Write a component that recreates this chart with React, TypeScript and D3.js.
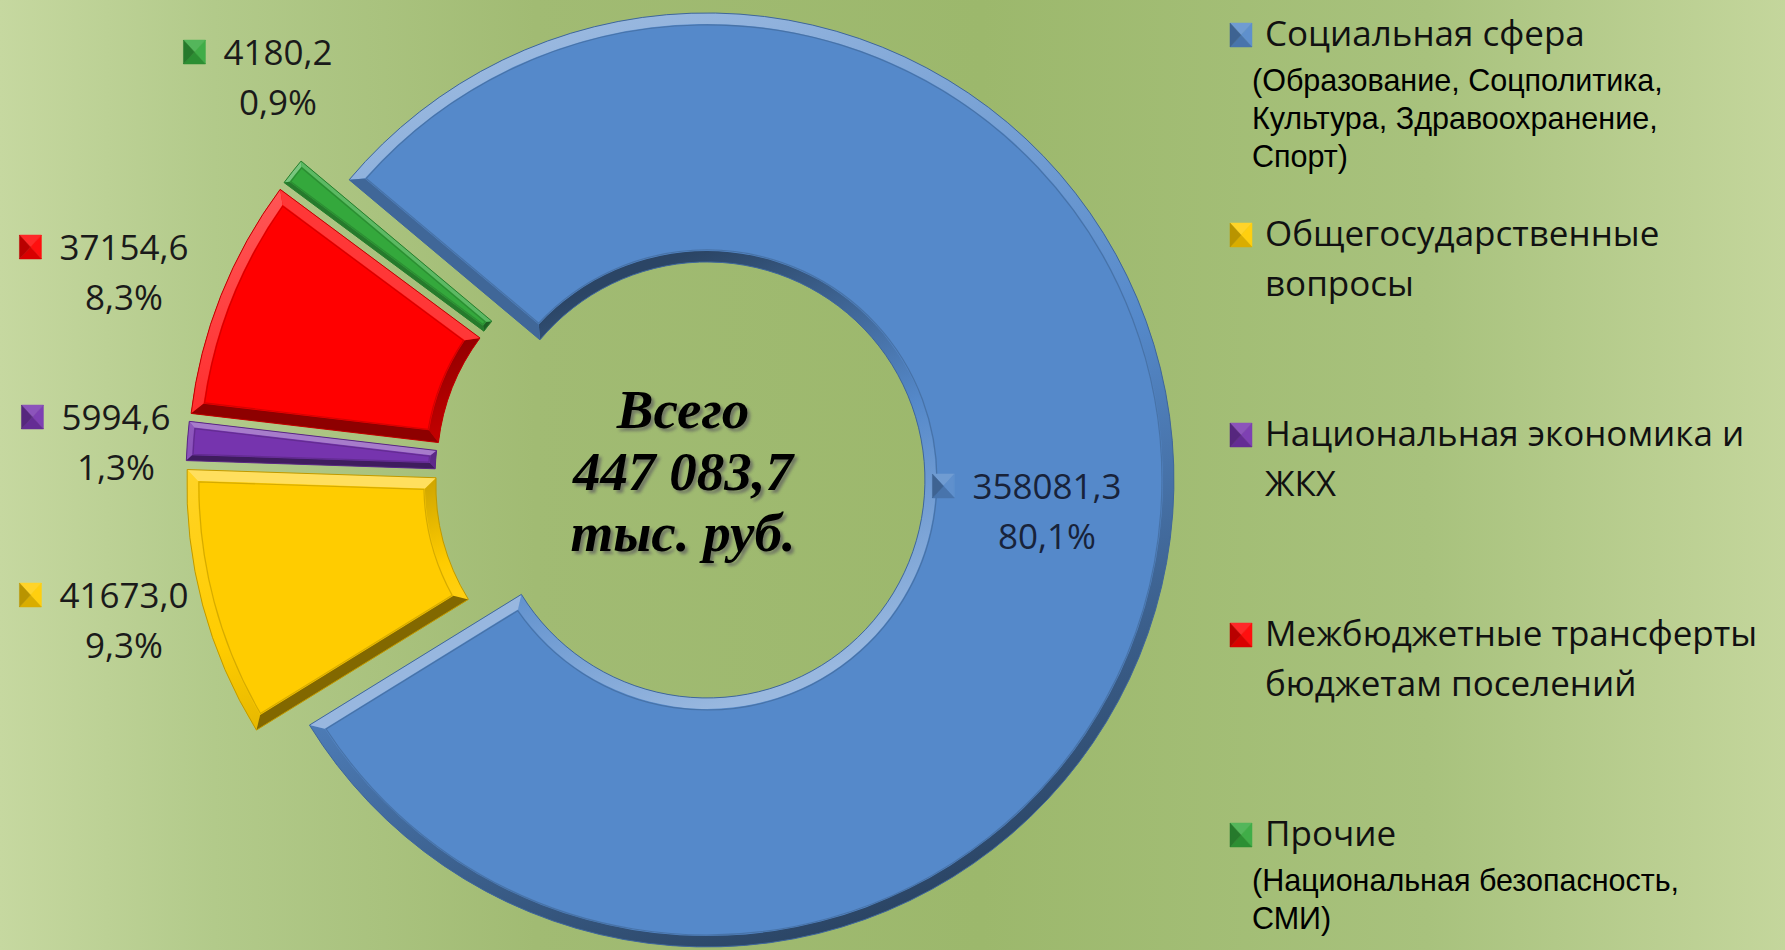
import React, { useEffect, useRef } from "react";
import * as d3 from "d3";

// Структура расходов бюджета, тыс. руб.
const categories = [
  "Социальная сфера",
  "Общегосударственные вопросы",
  "Национальная экономика и ЖКХ",
  "Межбюджетные трансферты бюджетам поселений",
  "Прочие",
];
const values = [358081.3, 41673.0, 5994.6, 37154.6, 4180.2];
const colors = ["#5589ca", "#ffcc00", "#7634ae", "#ff0000", "#34a83c"];

// legend text, split the way the slide wraps it
const legendLines = [
  ["Социальная сфера"],
  ["Общегосударственные", "вопросы"],
  ["Национальная экономика и", "ЖКХ"],
  ["Межбюджетные трансферты", "бюджетам поселений"],
  ["Прочие"],
];
const legendNotes = [
  ["(Образование, Соцполитика,", "Культура, Здравоохранение,", "Спорт)"],
  [],
  [],
  [],
  ["(Национальная безопасность,", "СМИ)"],
];

// where the data labels sit: centre x of the value text, baseline of first line
const labelPos = [
  [1047, 499],
  [124, 608],
  [116, 430],
  [124, 260],
  [278, 65],
];

const W = 1785;
const H = 950;

const App = () => {
  const ref = useRef<SVGSVGElement>(null);

  useEffect(() => {
    document.body.style.margin = "0";
    document.body.style.overflow = "hidden";

    const svg = d3.select(ref.current);
    svg.selectAll("*").remove();

    const ru = d3.formatLocale({
      decimal: ",",
      thousands: " ",
      grouping: [3],
      currency: ["", " руб."],
    });
    const fmtVal = ru.format(".1f");
    const fmtPct = ru.format(".1%");
    const fmtTotal = ru.format(",.1f");
    const total = d3.sum(values);

    const defs = svg.append("defs");

    // background: light at the sides, darker olive in the middle
    const bg = defs
      .append("linearGradient")
      .attr("id", "bg")
      .attr("x1", 0)
      .attr("x2", 1)
      .attr("y1", 0)
      .attr("y2", 0);
    [
      [0, "#c6d8a0"],
      [0.12, "#b2ca8a"],
      [0.3, "#a1bb73"],
      [0.55, "#9cb86c"],
      [0.8, "#a8c27d"],
      [1, "#c4d69c"],
    ].forEach(([o, c]) => bg.append("stop").attr("offset", o).attr("stop-color", c));
    svg.append("rect").attr("width", W).attr("height", H).attr("fill", "url(#bg)");

    const shadowBlur = defs.append("filter").attr("id", "tshadow");
    shadowBlur.append("feGaussianBlur").attr("stdDeviation", 1.6);

    // donut geometry
    const cx = 680,
      cy = 478,
      R = 467,
      r0 = 218,
      explode = 27;
    const rad = Math.PI / 180;

    const pie = d3
      .pie<number>()
      .sort(null)
      .startAngle(-50 * rad)
      .endAngle(310 * rad)
      .value((d) => d);
    const arcs = pie(values);

    const L = [-0.35, -0.94];
    const ln = Math.hypot(L[0], L[1]);
    L[0] /= ln;
    L[1] /= ln;

    const shade = (base: string, t: number) =>
      t >= 0
        ? d3.interpolateRgb(base, "#ffffff")(0.4 * t)
        : d3.interpolateRgb(base, "#000000")(0.5 * -t);

    const fullArc = d3.arc<any>().innerRadius(r0).outerRadius(R);
    const chart = svg.append("g");

    arcs.forEach((a, i) => {
      const base = colors[i];
      const s = a.startAngle;
      const e = a.endAngle;
      const mid = (s + e) / 2;
      const [ox, oy] = d3.pointRadial(mid, explode);
      const g = chart
        .append("g")
        .attr("transform", `translate(${cx + ox},${cy + oy})`);

      const b = Math.min(11, (e - s) * r0 * 0.3);

      // gradients for the curved bevel bands
      const og = defs
        .append("linearGradient")
        .attr("id", `og${i}`)
        .attr("gradientUnits", "userSpaceOnUse")
        .attr("x1", L[0] * R)
        .attr("y1", L[1] * R)
        .attr("x2", -L[0] * R)
        .attr("y2", -L[1] * R);
      og.append("stop").attr("offset", 0).attr("stop-color", shade(base, 1));
      og.append("stop").attr("offset", 0.5).attr("stop-color", base);
      og.append("stop").attr("offset", 1).attr("stop-color", shade(base, -1));

      const ig = defs
        .append("linearGradient")
        .attr("id", `ig${i}`)
        .attr("gradientUnits", "userSpaceOnUse")
        .attr("x1", -L[0] * r0)
        .attr("y1", -L[1] * r0)
        .attr("x2", L[0] * r0)
        .attr("y2", L[1] * r0);
      ig.append("stop").attr("offset", 0).attr("stop-color", shade(base, 1));
      ig.append("stop").attr("offset", 0.5).attr("stop-color", base);
      ig.append("stop").attr("offset", 1).attr("stop-color", shade(base, -1));

      const slice = { startAngle: s, endAngle: e };
      g.append("path").attr("d", fullArc(slice)).attr("fill", base);

      // outer bevel band
      const ao = Math.asin(b / (R - b));
      const po = d3.path();
      po.arc(0, 0, R, s - Math.PI / 2, e - Math.PI / 2);
      po.arc(0, 0, R - b, e - ao - Math.PI / 2, s + ao - Math.PI / 2, true);
      po.closePath();
      g.append("path").attr("d", po.toString()).attr("fill", `url(#og${i})`);

      // inner bevel band
      const ai = Math.asin(b / (r0 + b));
      const pi = d3.path();
      pi.arc(0, 0, r0 + b, s + ai - Math.PI / 2, e - ai - Math.PI / 2);
      pi.arc(0, 0, r0, e - Math.PI / 2, s - Math.PI / 2, true);
      pi.closePath();
      g.append("path").attr("d", pi.toString()).attr("fill", `url(#ig${i})`);

      // straight side bands
      const sides = [
        { ang: s, dir: 1, n: [-Math.cos(s), -Math.sin(s)] },
        { ang: e, dir: -1, n: [Math.cos(e), Math.sin(e)] },
      ];
      sides.forEach(({ ang, dir, n }) => {
        const pts = [
          d3.pointRadial(ang, r0),
          d3.pointRadial(ang, R),
          d3.pointRadial(ang + dir * ao, R - b),
          d3.pointRadial(ang + dir * ai, r0 + b),
        ];
        const t = n[0] * L[0] + n[1] * L[1];
        g.append("path")
          .attr("d", `M${pts.map((p) => p.join(",")).join("L")}Z`)
          .attr("fill", shade(base, t));
      });

      // thin inner line of the bevel
      const inset = d3
        .arc<any>()
        .innerRadius(r0 + b + 1)
        .outerRadius(R - b - 1)
        .padRadius(R)
        .padAngle(2 * Math.asin((b + 1) / R));
      g.append("path")
        .attr("d", inset(slice))
        .attr("fill", "none")
        .attr("stroke", shade(base, -0.6))
        .attr("stroke-opacity", 0.55)
        .attr("stroke-width", 1.2);

      g.append("path")
        .attr("d", fullArc(slice))
        .attr("fill", "none")
        .attr("stroke", shade(base, -0.5))
        .attr("stroke-width", 1);
    });

    // small pyramid-like colour keys
    const drawKey = (
      parent: d3.Selection<any, unknown, null, undefined>,
      x: number,
      y: number,
      color: string
    ) => {
      const w = 22,
        h = 24;
      const mx = x + w / 2,
        my = y + h / 2;
      const tris = [
        [[x, y], [x + w, y], [mx, my], 0.4],
        [[x + w, y], [x + w, y + h], [mx, my], 0.15],
        [[x, y + h], [x + w, y + h], [mx, my], -0.3],
        [[x, y], [x, y + h], [mx, my], -0.55],
      ];
      tris.forEach(([p1, p2, p3, t]: any) => {
        parent
          .append("path")
          .attr("d", `M${p1}L${p2}L${p3}Z`)
          .attr("fill", shade(color, t))
          .attr("stroke", shade(color, t))
          .attr("stroke-width", 0.5);
      });
    };

    // data labels
    const labels = svg.append("g").attr("font-family", "'Open Sans', sans-serif");
    arcs.forEach((a, i) => {
      const [lx, ly] = labelPos[i];
      const fill = i === 0 ? "#18233a" : "#1a1a1a";
      const t = labels
        .append("text")
        .attr("x", lx)
        .attr("y", ly)
        .attr("text-anchor", "middle")
        .attr("font-size", 35)
        .attr("fill", fill)
        .text(fmtVal(a.data));
      const w = (t.node() as SVGTextElement).getComputedTextLength();
      drawKey(labels, lx - w / 2 - 40, ly - 25, colors[i]);
      labels
        .append("text")
        .attr("x", lx)
        .attr("y", ly + 50)
        .attr("text-anchor", "middle")
        .attr("font-size", 35)
        .attr("fill", fill)
        .text(fmtPct(a.data / total));
    });

    // total in the hole
    const centre = svg
      .append("g")
      .attr("font-family", "'Liberation Serif', 'Times New Roman', serif")
      .attr("font-style", "italic")
      .attr("font-weight", "bold")
      .attr("font-size", 55)
      .attr("text-anchor", "middle");
    const centreLines = ["Всего", fmtTotal(total), "тыс. руб."];
    const lineY = d3.scaleLinear().domain([0, 2]).range([428, 551]);
    centreLines.forEach((s, k) => {
      centre
        .append("text")
        .attr("x", 686)
        .attr("y", lineY(k) + 3)
        .attr("fill", "#5f5f5f")
        .attr("opacity", 0.7)
        .attr("filter", "url(#tshadow)")
        .text(s);
      centre
        .append("text")
        .attr("x", 683)
        .attr("y", lineY(k))
        .attr("fill", "#000")
        .text(s);
    });

    // legend
    const legendY = d3.scaleLinear().domain([0, 4]).range([46, 846]);
    const legend = svg.append("g");
    categories.forEach((c, i) => {
      const y0 = legendY(i);
      drawKey(legend, 1230, y0 - 23, colors[i]);
      legendLines[i].forEach((line, k) => {
        legend
          .append("text")
          .attr("x", 1265)
          .attr("y", y0 + k * 50)
          .attr("font-family", "'Open Sans', sans-serif")
          .attr("font-size", 35)
          .attr("fill", "#111")
          .text(line);
      });
      legendNotes[i].forEach((line, k) => {
        legend
          .append("text")
          .attr("x", 1252)
          .attr("y", y0 + 45 + k * 38)
          .attr("font-family", "'Liberation Sans', Arial, sans-serif")
          .attr("font-size", 30.5)
          .attr("fill", "#000")
          .text(line);
      });
    });
  }, []);

  return (
    <svg
      ref={ref}
      width={W}
      height={H}
      style={{ display: "block", position: "absolute", left: 0, top: 0 }}
    />
  );
};

export default App;
